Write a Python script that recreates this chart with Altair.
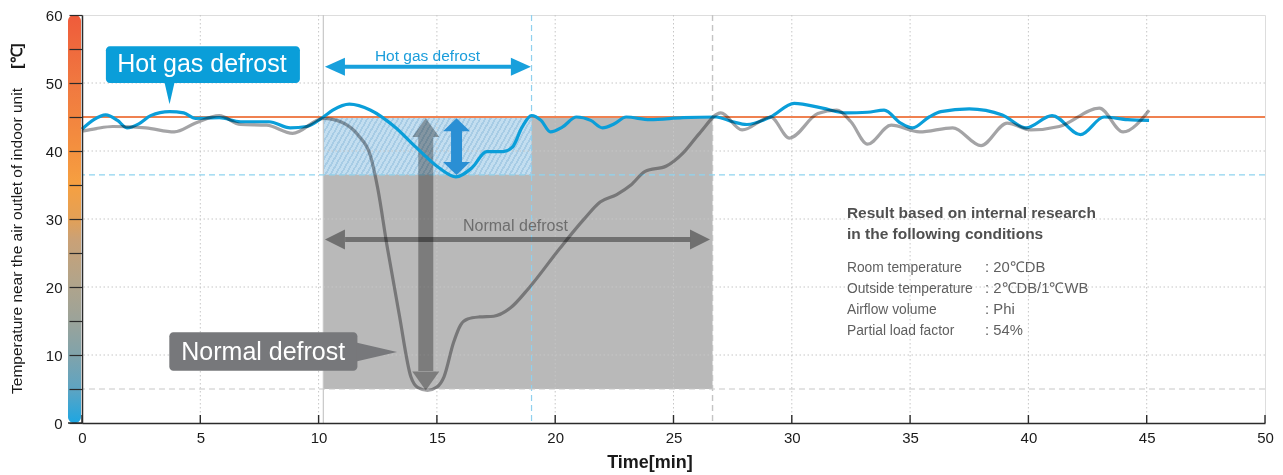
import altair as alt
import pandas as pd

# ---------------- data ----------------
time_hot = [0.0, 0.5, 1.0, 1.5, 1.9, 2.4, 2.9, 3.7, 4.3, 4.8, 5.8, 6.7, 7.9, 8.8, 9.5,
            10.2, 10.6, 11.3, 12.2, 13.2, 14.1, 15.1, 15.8, 16.5, 17.1, 17.8, 18.2, 18.6,
            19.0, 19.4, 19.8, 20.3, 20.9, 21.5, 22.0, 22.5, 23.0, 24.0, 25.4, 26.8, 27.5,
            28.1, 29.1, 30.1, 31.3, 32.3, 33.2, 33.9, 34.6, 35.1, 35.8, 36.3, 37.5, 38.9,
            39.9, 41.0, 42.2, 43.2, 44.2, 45.1]
temp_hot = [43.2, 44.6, 45.3, 44.5, 43.4, 44.0, 45.2, 45.8, 45.6, 44.8, 44.9, 44.3, 44.3, 43.4, 43.6,
            45.0, 46.0, 46.9, 46.0, 43.6, 40.6, 37.5, 36.2, 37.6, 39.9, 39.9, 40.6, 43.5,
            45.2, 44.5, 42.8, 43.5, 45.0, 44.5, 43.4, 44.0, 45.0, 44.6, 44.9, 45.0, 44.3,
            43.9, 45.0, 47.0, 46.3, 45.6, 45.7, 46.0, 44.1, 43.4, 45.0, 45.8, 46.2, 45.3,
            43.4, 45.2, 42.4, 45.0, 44.6, 44.5]

time_normal = [0.0, 0.6, 1.3, 2.7, 3.9, 4.8, 5.8, 6.7, 7.8, 8.9, 10.2, 11.0, 11.7, 12.2, 12.5,
               12.9, 13.4, 13.9, 14.2, 14.6, 15.0, 15.3, 15.7, 16.0, 16.3, 16.8, 17.4, 18.1,
               18.9, 20.2, 21.2, 21.9, 22.6, 23.2, 23.8, 24.7, 25.4, 26.1, 27.0, 27.9, 29.1,
               29.9, 31.1, 31.9, 32.5, 33.2, 34.2, 35.4, 36.8, 38.0, 39.1, 40.1, 41.3, 43.0,
               44.0, 45.1]
temp_normal = [42.9, 43.3, 43.6, 43.4, 42.8, 44.1, 45.2, 43.9, 43.8, 42.6, 44.8, 44.2, 42.2, 39.2, 34.5,
               25.9, 16.1, 6.8, 5.2, 4.8, 5.3, 6.8, 11.8, 14.4, 15.3, 15.6, 15.7, 16.9,
               19.9, 25.7, 29.9, 32.5, 33.6, 35.0, 37.0, 37.8, 39.7, 42.6, 45.6, 43.1, 45.0,
               41.9, 45.5, 46.0, 44.3, 41.0, 43.8, 42.8, 43.4, 40.8, 44.1, 43.1, 43.6, 46.3,
               42.8, 46.0]

x_ticks = [0, 5, 10, 15, 20, 25, 30, 35, 40, 45, 50]
y_ticks = [0, 5, 10, 15, 20, 25, 30, 35, 40, 45, 50, 55, 60]
x_grid = [5, 10, 15, 20, 25, 30, 35, 40, 45]
y_grid = [10, 20, 30, 40, 50]

set_temp = 45.0
hot_gas_min = 36.5
normal_min = 5.0
defrost_start = 10.2
hot_gas_end = 19.0
normal_end = 26.65

note_lines = ["Result based on internal research", "in the following conditions"]
condition_labels = ["Room temperature", "Outside temperature", "Airflow volume", "Partial load factor"]
condition_values = [": 20\u2103DB", ": 2\u2103DB/1\u2103WB", ": Phi", ": 54%"]

y_title = "Temperature near the air outlet of indoor unit"
y_unit = "[\u2103]"
x_title = "Time[min]"
hot_label = "Hot gas defrost"
normal_label = "Normal defrost"

# ---------------- styling ----------------
W, H = 1183, 408
FONT = "Liberation Sans"
BLUE = "#0a9ed9"
XS = alt.Scale(domain=[0, 50], nice=False, zero=False)
YS = alt.Scale(domain=[0, 60], nice=False, zero=False)

AXX = alt.Axis(values=x_ticks, ticks=False, tickSize=0, labelPadding=7, labelFontSize=15,
               labelFont=FONT, labelColor="#1a1a1a", domainColor="#2b2b2b", domainWidth=1.5,
               grid=False, title=None, labelFlush=False, labelOverlap=False, zindex=1)
AXY = alt.Axis(values=y_ticks, labelExpr="datum.value % 10 === 0 ? datum.label : ''",
               tickSize=13, tickColor="#2b2b2b", tickWidth=1.2, labelPadding=7, labelFontSize=15,
               labelFont=FONT, labelColor="#1a1a1a", domainColor="#2b2b2b", domainWidth=1.5,
               grid=False, title=None, labelOverlap=False, zindex=1)


def X(f):
    return alt.X(f, type="quantitative", scale=XS, axis=AXX)


def Y(f):
    return alt.Y(f, type="quantitative", scale=YS, axis=AXY)


def one(**kw):
    return pd.DataFrame([kw])


# ---------------- layers ----------------
bar_stops = [("#ef5b3b", 0.0), ("#ef6a3d", 1 / 12), ("#f07840", 2 / 12), ("#f2843f", 3 / 12),
             ("#f4913f", 4 / 12), ("#f6a041", 5 / 12), ("#e3a056", 6 / 12), ("#caa176", 0.55),
             ("#b3a489", 0.65), ("#9ba39a", 0.75), ("#80a3ab", 10 / 12), ("#5ea4c2", 11 / 12),
             ("#1da6e2", 1.0)]
bar_grad = alt.LinearGradient(gradient="linear", x1=0, y1=0, x2=0, y2=1,
                              stops=[alt.GradientStop(color=c, offset=o) for c, o in bar_stops])
color_bar = alt.Chart(one(top=60, bottom=0)).mark_rect(fill=bar_grad, cornerRadius=6).encode(
    x=alt.value(-14), x2=alt.value(-1), y=Y("top"), y2="bottom")

gray_rect = alt.Chart(one(a=defrost_start, b=normal_end, lo=normal_min, hi=set_temp)).mark_rect(
    color="#b9b9b9").encode(x=X("a"), x2="b", y=Y("lo"), y2="hi")

LIGHT, DARK = "#c3def0", "#a7cce5"
N = 50
hstops = []
for i in range(N):
    a0, b0, c0 = i / N, (i + 0.6) / N, (i + 1) / N
    hstops += [alt.GradientStop(color=LIGHT, offset=a0), alt.GradientStop(color=LIGHT, offset=b0),
               alt.GradientStop(color=DARK, offset=b0), alt.GradientStop(color=DARK, offset=c0)]
hatch = alt.LinearGradient(gradient="linear", x1=0, y1=0, x2=1.2, y2=0.19, stops=hstops)
hatch_rect = alt.Chart(one(a=defrost_start, b=hot_gas_end, lo=hot_gas_min, hi=set_temp)).mark_rect(
    fill=hatch).encode(x=X("a"), x2="b", y=Y("lo"), y2="hi")

grid_x = alt.Chart(pd.DataFrame({"t": x_grid})).mark_rule(
    color="#c6c6c6", strokeDash=[1.5, 2.5], strokeWidth=1).encode(x=X("t"))
grid_y = alt.Chart(pd.DataFrame({"v": y_grid})).mark_rule(
    color="#c6c6c6", strokeDash=[1.5, 2.5], strokeWidth=1).encode(y=Y("v"))

v_start = alt.Chart(one(t=defrost_start)).mark_rule(color="#c8c8c8", strokeWidth=1.2).encode(x=X("t"))
v_hot = alt.Chart(one(t=hot_gas_end)).mark_rule(color="#8fd0ee", strokeWidth=1.2,
                                                strokeDash=[6, 4]).encode(x=X("t"))
v_norm = alt.Chart(one(t=normal_end)).mark_rule(color="#c4c4c4", strokeWidth=1.4,
                                                strokeDash=[6, 4]).encode(x=X("t"))
h_hot = alt.Chart(one(v=hot_gas_min)).mark_rule(color="#8fd3f0", strokeWidth=1.2,
                                               strokeDash=[6, 4]).encode(y=Y("v"))
h_norm = alt.Chart(one(v=normal_min)).mark_rule(color="#c8c8c8", strokeWidth=1.2,
                                               strokeDash=[6, 4]).encode(y=Y("v"))
h_set = alt.Chart(one(v=set_temp)).mark_rule(color="#ef8150", strokeWidth=2).encode(y=Y("v"))

# arrows
L_HEAD = "M1,-0.9L-1,0L1,0.9Z"
R_HEAD = "M-1,-0.9L1,0L-1,0.9Z"
NL_HEAD = "M1,-1L-1,0L1,1Z"
NR_HEAD = "M-1,-1L1,0L-1,1Z"
U_HEAD = "M0,-0.7L1,0.7L-1,0.7Z"
D_HEAD = "M0,0.7L1,-0.7L-1,-0.7Z"
BU_HEAD = "M0,-0.48L1,0.48L-1,0.48Z"
BD_HEAD = "M0,0.48L1,-0.48L-1,-0.48Z"

ARW_GRAY = "#9a9a9a"
n_shaft = alt.Chart(one(a=11.12, b=25.7, v=27.0)).mark_rule(
    color=ARW_GRAY, strokeWidth=5, blend="multiply").encode(x=X("a"), x2="b", y=Y("v"))
n_l = alt.Chart(one(t=10.69, v=27.0)).mark_point(
    shape=NL_HEAD, size=400, filled=True, opacity=1, color=ARW_GRAY, strokeWidth=0,
    blend="multiply").encode(x=X("t"), y=Y("v"))
n_r = alt.Chart(one(t=26.12, v=27.0)).mark_point(
    shape=NR_HEAD, size=400, filled=True, opacity=1, color=ARW_GRAY, strokeWidth=0,
    blend="multiply").encode(x=X("t"), y=Y("v"))

VG = "#ababab"
g_shaft = alt.Chart(one(t=14.53, a=42.06, b=7.65)).mark_rule(
    color=VG, strokeWidth=15, blend="multiply").encode(x=X("t"), y=Y("a"), y2="b")
g_u = alt.Chart(one(t=14.53, v=43.46)).mark_point(
    shape=U_HEAD, size=729, filled=True, opacity=1, color=VG, strokeWidth=0,
    blend="multiply").encode(x=X("t"), y=Y("v"))
g_d = alt.Chart(one(t=14.53, v=6.18)).mark_point(
    shape=D_HEAD, size=729, filled=True, opacity=1, color=VG, strokeWidth=0,
    blend="multiply").encode(x=X("t"), y=Y("v"))

BA = "#2a8fd4"
b_shaft = alt.Chart(one(t=15.83, a=43.0, b=38.35)).mark_rule(
    color=BA, strokeWidth=11).encode(x=X("t"), y=Y("a"), y2="b")
b_u = alt.Chart(one(t=15.83, v=43.85)).mark_point(
    shape=BU_HEAD, size=729, filled=True, opacity=1, color=BA, strokeWidth=0).encode(x=X("t"), y=Y("v"))
b_d = alt.Chart(one(t=15.83, v=37.43)).mark_point(
    shape=BD_HEAD, size=729, filled=True, opacity=1, color=BA, strokeWidth=0).encode(x=X("t"), y=Y("v"))

HA = "#18a0dc"
h_shaft = alt.Chart(one(a=10.9, b=18.3, v=52.4)).mark_rule(
    color=HA, strokeWidth=4).encode(x=X("a"), x2="b", y=Y("v"))
h_l = alt.Chart(one(t=10.69, v=52.4)).mark_point(
    shape=L_HEAD, size=400, filled=True, opacity=1, color=HA, strokeWidth=0).encode(x=X("t"), y=Y("v"))
h_r = alt.Chart(one(t=18.55, v=52.4)).mark_point(
    shape=R_HEAD, size=400, filled=True, opacity=1, color=HA, strokeWidth=0).encode(x=X("t"), y=Y("v"))

# data lines
hot_df = pd.DataFrame({"t": time_hot, "v": temp_hot})
norm_df = pd.DataFrame({"t": time_normal, "v": temp_normal})
hot_line = alt.Chart(hot_df).mark_line(color=BLUE, strokeWidth=3.2, interpolate="monotone").encode(
    x=X("t"), y=Y("v"))
norm_line = alt.Chart(norm_df).mark_line(color="#a4a4a6", strokeWidth=3.2, interpolate="monotone",
                                         blend="multiply").encode(x=X("t"), y=Y("v"))

# callouts
hot_box = alt.Chart(one(a=1.01, b=9.21, lo=50.0, hi=55.4)).mark_rect(
    color=BLUE, cornerRadius=4).encode(x=X("a"), x2="b", y=Y("lo"), y2="hi")
hot_ptr = alt.Chart(one(t=3.70, v=48.8)).mark_point(
    shape="M-0.46,-1L0.46,-1L0,1Z", size=676, filled=True, opacity=1, color=BLUE,
    strokeWidth=0).encode(x=X("t"), y=Y("v"))
hot_txt = alt.Chart(one(t=5.07, v=52.75, s=hot_label)).mark_text(
    color="white", fontSize=25, font=FONT, align="center", baseline="middle").encode(
    x=X("t"), y=Y("v"), text="s:N")

norm_box = alt.Chart(one(a=3.69, b=11.64, lo=7.69, hi=13.34)).mark_rect(
    color="#77787b", cornerRadius=4).encode(x=X("a"), x2="b", y=Y("lo"), y2="hi")
norm_ptr = alt.Chart(one(t=12.45, v=10.44)).mark_point(
    shape="M-1,-0.46L1,0L-1,0.46Z", size=1681, filled=True, opacity=1, color="#77787b",
    strokeWidth=0).encode(x=X("t"), y=Y("v"))
norm_txt = alt.Chart(one(t=7.66, v=10.44, s=normal_label)).mark_text(
    color="white", fontSize=25, font=FONT, align="center", baseline="middle").encode(
    x=X("t"), y=Y("v"), text="s:N")

hot_arrow_txt = alt.Chart(one(t=14.6, v=54.0, s=hot_label)).mark_text(
    color="#1a9ddb", fontSize=15.5, font=FONT, align="center", baseline="middle").encode(
    x=X("t"), y=Y("v"), text="s:N")
norm_arrow_txt = alt.Chart(one(t=18.32, v=29.0, s=normal_label)).mark_text(
    color="#6d6d6d", fontSize=16, font=FONT, align="center", baseline="middle").encode(
    x=X("t"), y=Y("v"), text="s:N")

note_df = pd.DataFrame({"t": [32.33, 32.33], "v": [30.84, 27.75], "s": note_lines})
note_txt = alt.Chart(note_df).mark_text(
    color="#505050", fontSize=15.5, fontWeight="bold", font=FONT, align="left",
    baseline="middle").encode(x=X("t"), y=Y("v"), text="s:N")
cond_y = [22.84, 19.75, 16.62, 13.53]
cond_l = alt.Chart(pd.DataFrame({"t": [32.33] * 4, "v": cond_y, "s": condition_labels})).mark_text(
    color="#5f5f5f", fontSize=13.8, font=FONT, align="left", baseline="middle").encode(
    x=X("t"), y=Y("v"), text="s:N")
cond_v = alt.Chart(pd.DataFrame({"t": [38.17] * 4, "v": cond_y, "s": condition_values})).mark_text(
    color="#5f5f5f", fontSize=14.8, font=FONT, align="left", baseline="middle").encode(
    x=X("t"), y=Y("v"), text="s:N")

# axis decorations
x_tick_marks = alt.Chart(pd.DataFrame({"t": x_ticks})).mark_rule(
    color="#2b2b2b", strokeWidth=1.4).encode(x=X("t"), y=alt.value(H - 8), y2=alt.value(H))
axis_ext = alt.Chart(one(k=0)).mark_rule(color="#2b2b2b", strokeWidth=1.5).encode(
    x=alt.value(-14), x2=alt.value(0), y=alt.value(H))
ytitle = alt.Chart(one(s=y_title)).mark_text(
    angle=270, fontSize=15.5, font=FONT, color="#1a1a1a", align="center", baseline="middle").encode(
    x=alt.value(-65), y=alt.value(226), text="s:N")
yunit = alt.Chart(one(s=y_unit)).mark_text(
    angle=270, fontSize=15.5, fontWeight="bold", font=FONT, color="#1a1a1a", align="center",
    baseline="middle").encode(x=alt.value(-65), y=alt.value(41), text="s:N")
xtitle = alt.Chart(one(s=x_title)).mark_text(
    fontSize=18, fontWeight="bold", font=FONT, color="#1a1a1a", align="center",
    baseline="middle").encode(x=alt.value(568), y=alt.value(448), text="s:N")

chart = alt.layer(
    color_bar, gray_rect, hatch_rect, grid_x, grid_y, v_start, v_hot, v_norm, h_hot, h_norm, h_set,
    n_shaft, n_l, n_r, g_shaft, g_u, g_d, b_shaft, b_u, b_d, h_shaft, h_l, h_r,
    hot_line, norm_line,
    hot_box, hot_ptr, hot_txt, norm_box, norm_ptr, norm_txt,
    hot_arrow_txt, norm_arrow_txt, note_txt, cond_l, cond_v,
    x_tick_marks, axis_ext, ytitle, yunit, xtitle,
).properties(
    width=W, height=H,
    padding={"left": 74, "top": 7, "right": 10, "bottom": 52},
    autosize=alt.AutoSizeParams(type="none"),
).configure_view(fill="#f5f4f2", stroke="transparent").configure(background="white")

chart.save("out.html", embed_options={"renderer": "svg", "actions": False})
